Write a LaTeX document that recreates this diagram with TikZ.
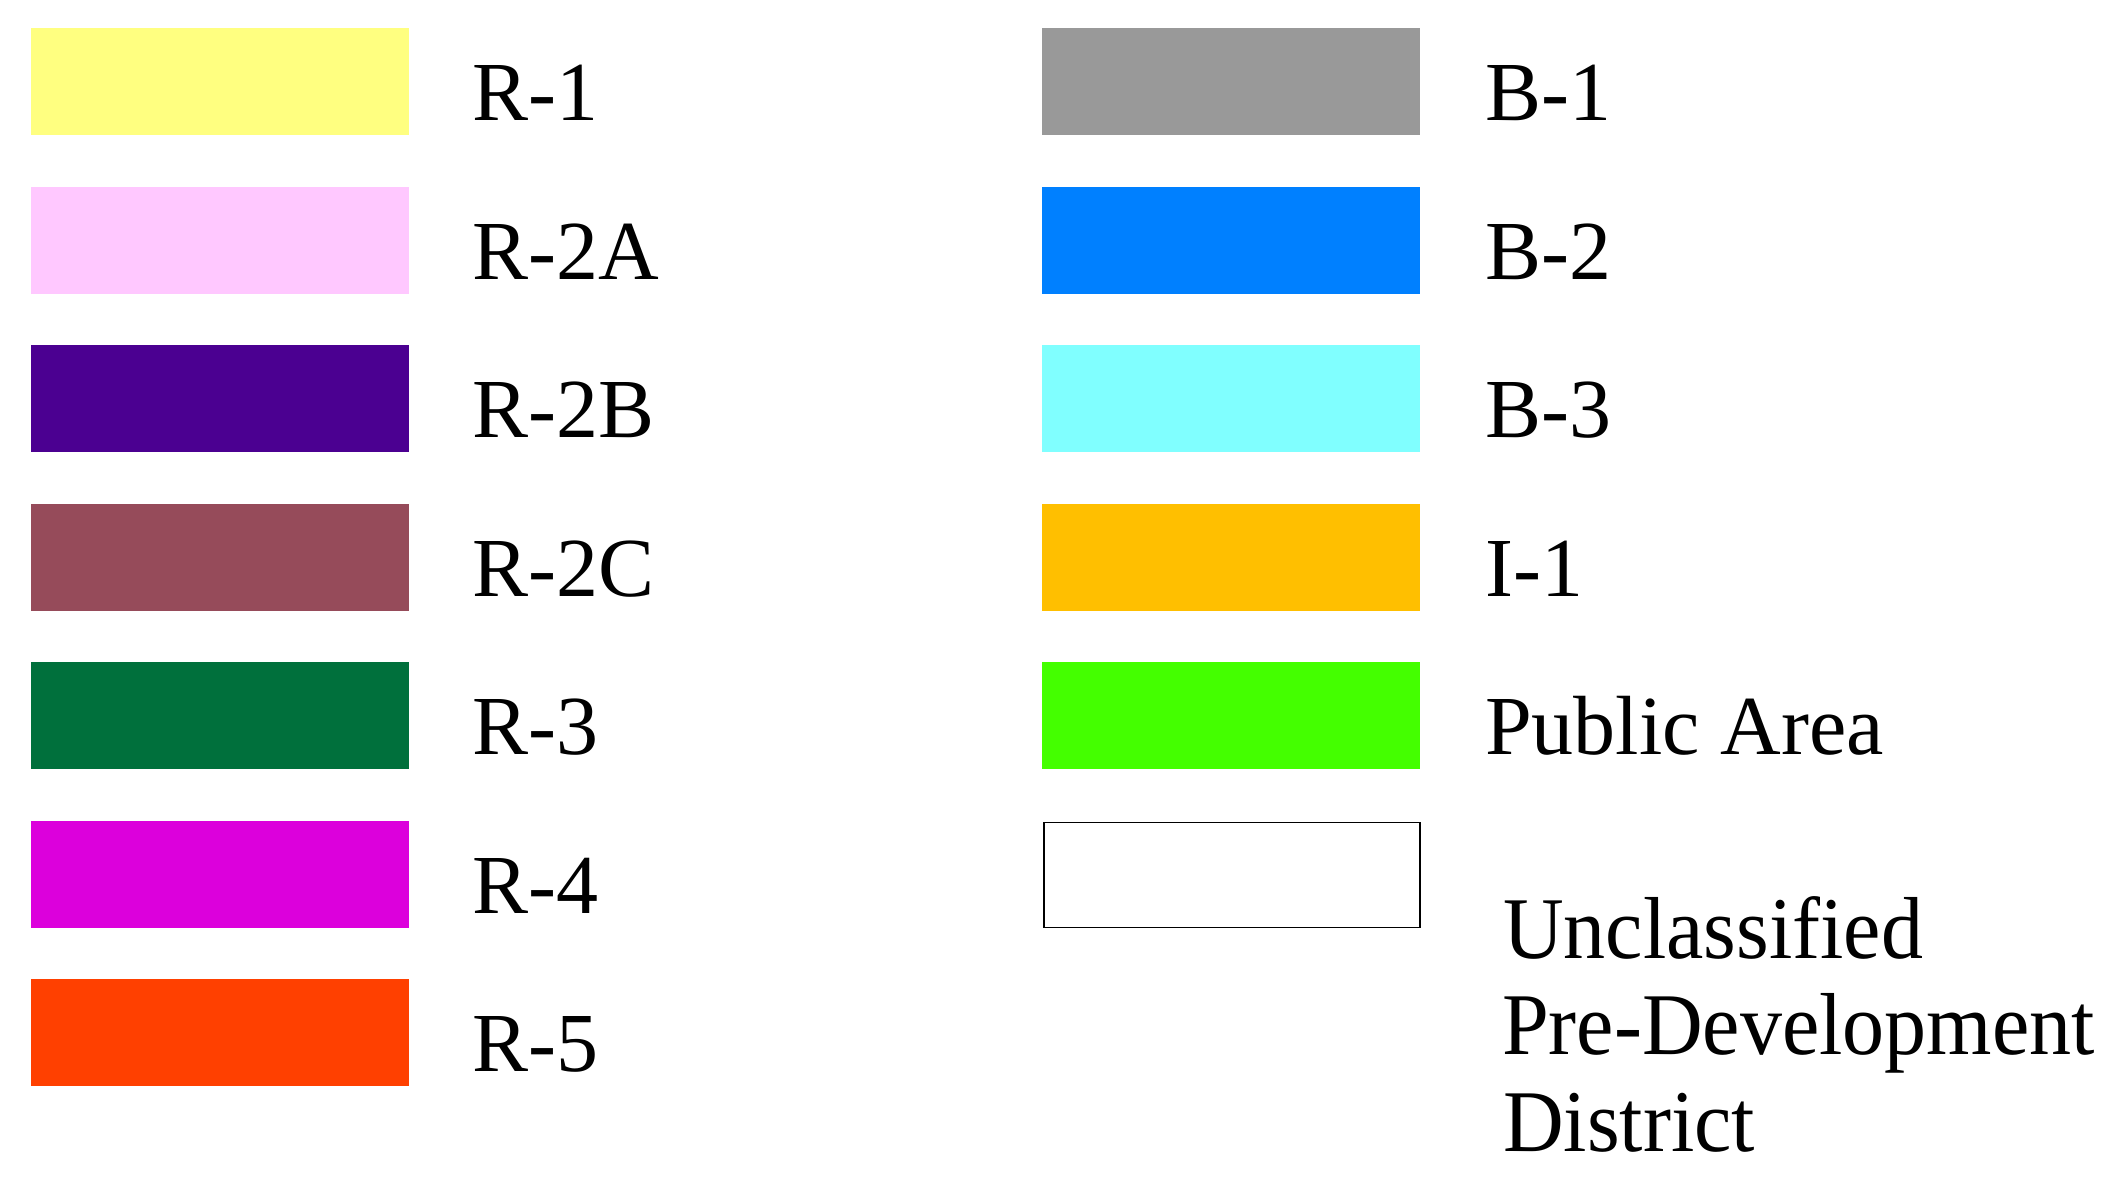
\documentclass[tikz,border=0pt]{standalone}
\usepackage{fontspec}
\setmainfont{Liberation Serif}
\definecolor{cRone}{RGB}{255,255,128}
\definecolor{cRtwoA}{RGB}{255,200,255}
\definecolor{cRtwoB}{RGB}{75,0,145}
\definecolor{cRtwoC}{RGB}{150,75,90}
\definecolor{cRthree}{RGB}{0,112,60}
\definecolor{cRfour}{RGB}{220,0,220}
\definecolor{cRfive}{RGB}{255,64,0}
\definecolor{cBone}{RGB}{153,153,153}
\definecolor{cBtwo}{RGB}{0,128,255}
\definecolor{cBthree}{RGB}{128,255,255}
\definecolor{cIone}{RGB}{255,191,0}
\definecolor{cPub}{RGB}{68,255,0}
\tikzset{
  swatch/.style={draw=none, inner sep=0pt, minimum width=378pt, minimum height=107pt, anchor=north west},
  lbl/.style={inner sep=0pt, anchor=base west, font=\fontsize{84}{100}\selectfont},
  lbltall/.style={inner sep=0pt, anchor=base west, font=\fontsize{88}{100}\selectfont, xscale=0.955}
}
\begin{document}
\begin{tikzpicture}[x=1pt,y=-1pt]
\useasboundingbox (0,0) rectangle (2119,1184);
% left column
\node[swatch, fill=cRone]   (s1) at (31,28) {};
\node[swatch, fill=cRtwoA]  (s2) at (31,186.5) {};
\node[swatch, fill=cRtwoB]  (s3) at (31,345) {};
\node[swatch, fill=cRtwoC]  (s4) at (31,503.5) {};
\node[swatch, fill=cRthree] (s5) at (31,662) {};
\node[swatch, fill=cRfour]  (s6) at (31,820.5) {};
\node[swatch, fill=cRfive]  (s7) at (31,979) {};
\node[lbl] (l1) at (472,120) {R-1};
\node[lbl] (l2) at (472,279) {R-2A};
\node[lbl] (l3) at (472,437.5) {R-2B};
\node[lbl] (l4) at (472,596) {R-2C};
\node[lbl] (l5) at (472,754.5) {R-3};
\node[lbl] (l6) at (472,913) {R-4};
\node[lbl] (l7) at (472,1071.5) {R-5};
% right column
\node[swatch, fill=cBone]   (t1) at (1042,28) {};
\node[swatch, fill=cBtwo]   (t2) at (1042,186.5) {};
\node[swatch, fill=cBthree] (t3) at (1042,345) {};
\node[swatch, fill=cIone]   (t4) at (1042,503.5) {};
\node[swatch, fill=cPub]    (t5) at (1042,662) {};
\node[swatch, draw=black, line width=1.5pt, fill=white, minimum width=376pt, minimum height=105pt] (t6) at (1043,821.5) {};
\node[lbl] (m1) at (1485,120) {B-1};
\node[lbl] (m2) at (1485,279) {B-2};
\node[lbl] (m3) at (1485,437.5) {B-3};
\node[lbl] (m4) at (1485,596) {I-1};
\node[lbl] (m5) at (1485,754.5) {Public Area};
\node[lbltall] (u1) at (1503,958) {Unclassified};
\node[lbltall] (u2) at (1502,1054.5) {Pre-Development};
\node[lbltall] (u3) at (1503,1151) {District};
\end{tikzpicture}
\end{document}
